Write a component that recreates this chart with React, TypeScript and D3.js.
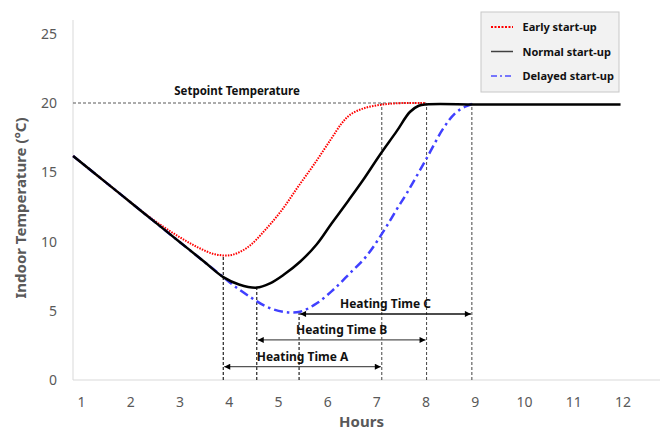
import React from "react";
import * as d3 from "d3";

const xTicks = [1, 2, 3, 4, 5, 6, 7, 8, 9, 10, 11, 12];
const yTicks = [0, 5, 10, 15, 20, 25];

const normalX = [0.83, 1.5, 2, 2.5, 3, 3.5, 3.88, 4.2, 4.56, 4.83, 5.1, 5.44, 5.78, 6.08, 6.42, 6.72, 7.06, 7.4, 7.67, 7.85, 8.0, 9, 10, 11, 11.95];
const normalY = [16.17, 14.25, 12.82, 11.38, 9.95, 8.52, 7.43, 6.9, 6.67, 6.98, 7.58, 8.54, 9.8, 11.3, 12.95, 14.44, 16.25, 17.95, 19.35, 19.8, 19.9, 19.9, 19.9, 19.9, 19.9];

const earlyX = [0.83, 1.5, 2.0, 2.3, 2.65, 3.0, 3.35, 3.71, 4.05, 4.39, 4.73, 5.07, 5.4, 5.74, 6.06, 6.28, 6.45, 6.72, 7.06, 7.4, 8.0];
const earlyY = [16.17, 14.25, 12.82, 11.98, 11.1, 10.3, 9.6, 9.08, 9.03, 9.62, 10.83, 12.27, 13.96, 15.65, 17.35, 18.5, 19.13, 19.6, 19.86, 19.98, 20];

const delayedX = [0.83, 1.5, 2, 2.5, 3, 3.5, 3.88, 4.1, 4.42, 4.76, 5.1, 5.44, 5.78, 6.11, 6.45, 6.79, 7.13, 7.4, 7.61, 8.01, 8.35, 8.59, 8.79, 8.93];
const delayedY = [16.17, 14.25, 12.82, 11.38, 9.95, 8.52, 7.43, 6.8, 6.01, 5.29, 4.93, 4.93, 5.54, 6.5, 7.7, 8.95, 10.71, 12.3, 13.5, 16.0, 18.17, 19.26, 19.73, 19.93];

const setpoint = 20;
const setpointLabel = "Setpoint Temperature";

// heating-time annotations: start hour, start temperature (minimum), end hour, arrow level
const heatLabels = ["Heating Time A", "Heating Time B", "Heating Time C"];
const heatStart = [3.88, 4.56, 5.42];
const heatStartTemp = [9.03, 6.67, 4.93];
const heatEnd = [7.1, 8.01, 8.93];
const heatLevel = [0.96, 2.89, 4.77];

const legendNames = ["Early start-up", "Normal start-up", "Delayed start-up"];

export default function App() {
  const W = 662, H = 431;
  const x = d3.scaleLinear().domain([1, 12]).range([81.5, 623]);
  const y = d3.scaleLinear().domain([0, 25]).range([380, 33.75]);
  const x0 = 73;
  const line = d3.line<[number, number]>().x(d => x(d[0])).y(d => y(d[1])).curve(d3.curveCatmullRom.alpha(0.5));
  const zip = (a: number[], b: number[]) => a.map((v, i) => [v, b[i]] as [number, number]);

  const gray = "#595959";
  const font = "'Noto Sans', 'DejaVu Sans', sans-serif";

  const legendStyles = [
    { stroke: "#ff0000", dash: "2,1.5", w: 2 },
    { stroke: "#404040", dash: "", w: 1.5 },
    { stroke: "#4d4dff", dash: "6,3,2,3", w: 1.5 },
  ];

  return (
    <svg width={W} height={H} style={{ position: "absolute", left: 0, top: 0, background: "#fff" }} fontFamily={font}>
      <defs>
        <marker id="ahR" viewBox="0 0 10 10" refX="10" refY="5" markerWidth="7" markerHeight="6" markerUnits="userSpaceOnUse" orient="auto">
          <path d="M0,0 L10,5 L0,10 z" fill="#000" />
        </marker>
        <marker id="ahL" viewBox="0 0 10 10" refX="0" refY="5" markerWidth="7" markerHeight="6" markerUnits="userSpaceOnUse" orient="auto">
          <path d="M10,0 L0,5 L10,10 z" fill="#000" />
        </marker>
      </defs>
      <rect x={0} y={0} width={W} height={H} fill="#fff" />

      {/* axes */}
      <line x1={x0} x2={x0} y1={20} y2={y(0)} stroke="#d9d9d9" strokeWidth={1} />
      <line x1={x0} x2={660} y1={y(0)} y2={y(0)} stroke="#d9d9d9" strokeWidth={1} />

      {yTicks.map(t => (
        <text key={"y" + t} x={57} y={y(t) + 5} textAnchor="end" fontSize={14} fill={gray}>{t}</text>
      ))}
      {xTicks.map(t => (
        <text key={"x" + t} x={x(t)} y={407} textAnchor="middle" fontSize={14} fill={gray}>{t}</text>
      ))}

      <text x={361.5} y={427} textAnchor="middle" fontSize={15} fontWeight="bold" fill={gray}>Hours</text>
      <text transform={`translate(26,208) rotate(-90)`} textAnchor="middle" fontSize={15} fontWeight="bold" fill={gray}>Indoor Temperature (°C)</text>

      {/* setpoint */}
      <line x1={x0} x2={x(8.0)} y1={y(setpoint)} y2={y(setpoint)} stroke={gray} strokeWidth={1} strokeDasharray="3,2" />
      <text x={237} y={95} textAnchor="middle" fontSize={11.5} fontWeight="bold" fill="#111">{setpointLabel}</text>

      {/* vertical dashed lines */}
      {heatStart.map((h, i) => (
        <line key={"vs" + i} x1={x(h)} x2={x(h)} y1={y(0)} y2={y(heatStartTemp[i])} stroke="#222" strokeWidth={1.2} strokeDasharray="3,2" />
      ))}
      {heatEnd.map((h, i) => (
        <line key={"ve" + i} x1={x(h)} x2={x(h)} y1={y(0)} y2={y(setpoint)} stroke="#444" strokeWidth={1} strokeDasharray="3,2" />
      ))}

      {/* curves */}
      <path d={line(zip(earlyX, earlyY)) || ""} fill="none" stroke="#ff0000" strokeWidth={2} strokeDasharray="1.5,1.2" />
      <path d={line(zip(delayedX, delayedY)) || ""} fill="none" stroke="#4040ff" strokeWidth={2.5} strokeDasharray="9,4,2.5,4" />
      <path d={line(zip(normalX, normalY)) || ""} fill="none" stroke="#000" strokeWidth={2.5} />

      {/* arrows */}
      {heatLabels.map((lab, i) => {
        const xa = x(heatStart[i]) + 1, xb = x(heatEnd[i]) - 1, yy = y(heatLevel[i]);
        return (
          <g key={"a" + i}>
            <line x1={xa} x2={xb} y1={yy} y2={yy} stroke={i === 2 ? "#111" : "#555"} strokeWidth={i === 2 ? 1.6 : 1.2} markerStart="url(#ahL)" markerEnd="url(#ahR)" />
            <text x={(xa + xb) / 2} y={yy - 5.5} textAnchor="middle" fontSize={12} fontWeight="bold" fill="#111">{lab}</text>
          </g>
        );
      })}

      {/* legend */}
      <rect x={481} y={12} width={138} height={80} fill="#f2f2f2" stroke="#c8c8c8" strokeWidth={1} />
      {legendNames.map((n, i) => {
        const ly = 27 + i * 24.5;
        const s = legendStyles[i];
        return (
          <g key={"l" + i}>
            <line x1={491} x2={513} y1={ly} y2={ly} stroke={s.stroke} strokeWidth={s.w} strokeDasharray={s.dash} />
            <text x={522.5} y={ly + 4} fontSize={11} fontWeight="bold" fill="#111">{n}</text>
          </g>
        );
      })}
    </svg>
  );
}
